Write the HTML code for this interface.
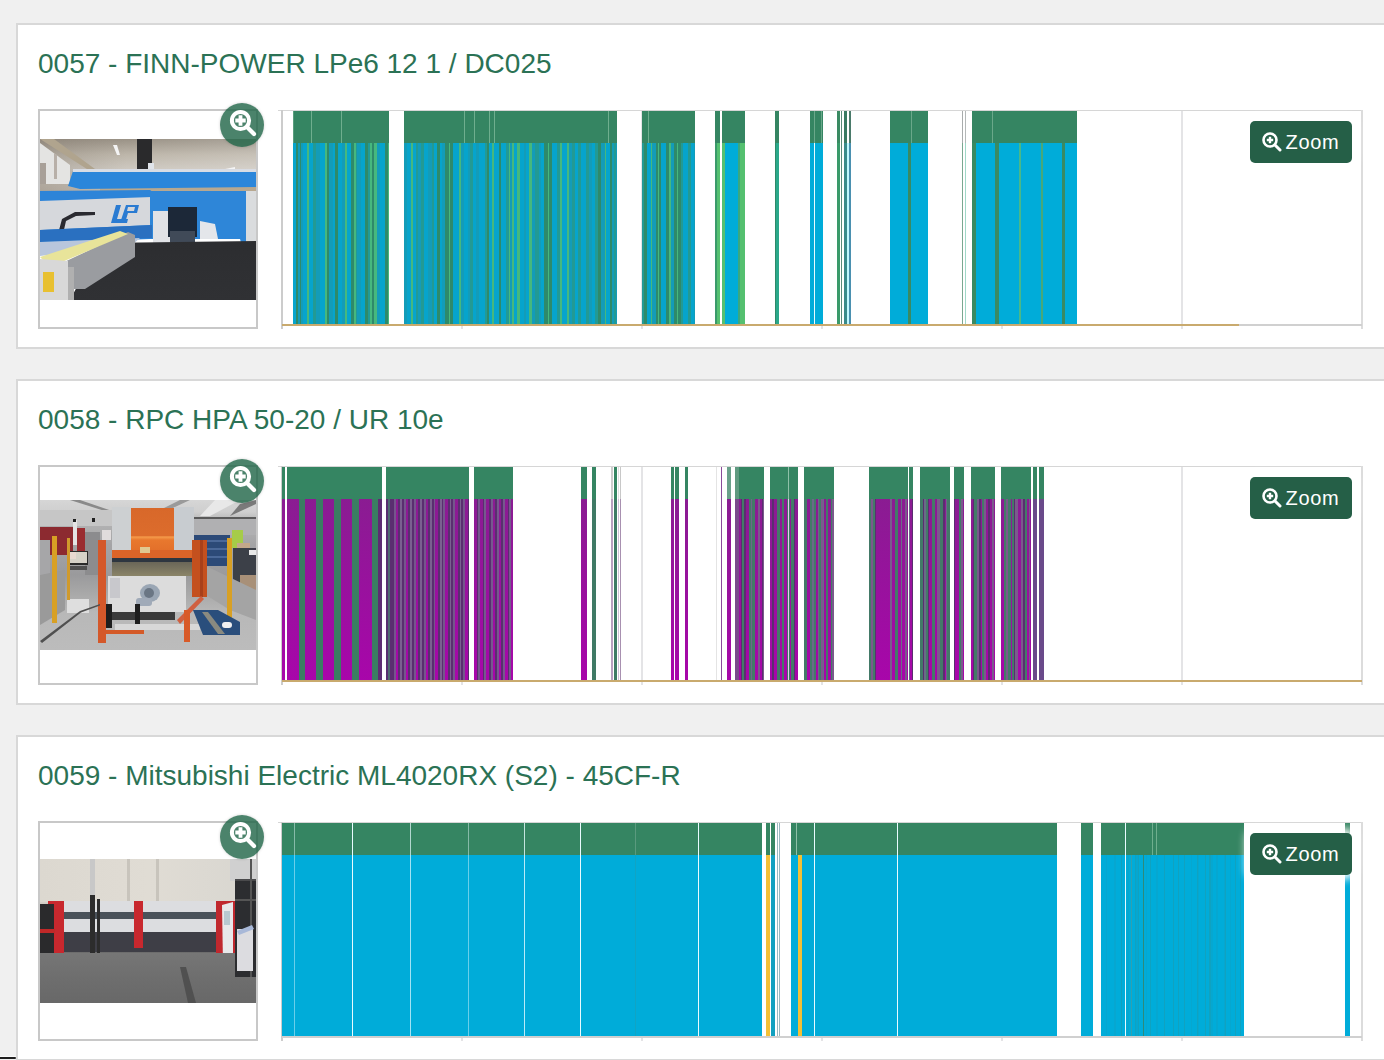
<!DOCTYPE html>
<html><head><meta charset="utf-8"><style>
html,body{margin:0;padding:0}
body{width:1384px;height:1060px;overflow:hidden;position:relative;background:#f0f0f0;font-family:"Liberation Sans",sans-serif}
.card{position:absolute;left:16px;width:1400px;height:322px;border:2px solid #d8d8d8;background:#fff}
.title{position:absolute;left:38px;font-size:28px;line-height:36px;color:#2b7255;white-space:nowrap}
.box{position:absolute;left:38px;width:216px;height:216px;border:2px solid #c8c8c8;background:#fff}
.ph{position:absolute;left:40px;width:216px;overflow:hidden;filter:blur(0.5px)}
.ph i{position:absolute;display:block}
.s{position:absolute}
.circ{position:absolute;left:220px;width:44px;height:44px;border-radius:50%;background:rgba(30,100,70,0.8);box-shadow:0 0 3px rgba(0,0,0,0.18)}
.circ svg{position:absolute;left:0;top:0}
.zbtn{position:absolute;left:1250px;width:102px;height:42px;border-radius:5px;background:#255f47;box-shadow:0 0 8px 4px #fff;color:#fff}
.zbtn svg{position:absolute;left:12px;top:11px}
.zbtn span{position:absolute;left:35.5px;top:10px;font-size:20px;line-height:22px;letter-spacing:0.7px}
</style></head><body>
<div class="card" style="top:23px"></div><div class="title" style="top:46px">0057 - FINN-POWER LPe6 12 1 / DC025</div><div class="box" style="top:109px"></div><div class="ph" style="top:139px;height:161px"><i style="left:0px;top:0px;width:216px;height:52px;background:linear-gradient(180deg,#9a9286 0,#bdb6aa 30%,#cfcac2 60%,#c4bcb0 100%);"></i><i style="left:0px;top:0px;width:216px;height:52px;background:linear-gradient(90deg,rgba(120,110,100,0.3),rgba(0,0,0,0) 40%,rgba(255,255,255,0.15) 100%);"></i><i style="left:0;top:0;width:216px;height:161px;background:#e4e4e2;clip-path:polygon(0px 4px,30px 26px,30px 45px,0px 45px);"></i><i style="left:0;top:0;width:216px;height:161px;background:#b0a48e;clip-path:polygon(0px 0px,14px 0px,55px 30px,50px 32px);"></i><i style="left:0;top:0;width:216px;height:161px;background:#a8a098;clip-path:polygon(0px 24px,6px 24px,6px 45px,0px 45px);"></i><i style="left:0;top:0;width:216px;height:161px;background:#b8b0a8;clip-path:polygon(14px 14px,17px 16px,17px 40px,14px 40px);"></i><i style="left:0;top:0;width:216px;height:161px;background:#f4f4f4;clip-path:polygon(73px 6px,77px 6px,80px 16px,77px 16px);"></i><i style="left:0;top:0;width:216px;height:161px;background:#f4f4f4;clip-path:polygon(185px 30px,195px 28px,195px 30px,186px 32px);"></i><i style="left:97px;top:0px;width:15px;height:30px;background:#2a2a2c;"></i><i style="left:108px;top:24px;width:6px;height:8px;background:#e0e4ea;"></i><i style="left:60px;top:45px;width:156px;height:10px;background:#b8a890;"></i><i style="left:0;top:0;width:216px;height:161px;background:#2b86da;clip-path:polygon(33px 32px,216px 32px,216px 48px,40px 50px,28px 47px);"></i><i style="left:33px;top:30px;width:183px;height:3px;background:#d8dce4;"></i><i style="left:0;top:0;width:216px;height:161px;background:#2d84d8;clip-path:polygon(0px 52px,110px 51px,120px 58px,110px 100px,0px 104px);"></i><i style="left:0;top:0;width:216px;height:161px;background:#d6d8dc;clip-path:polygon(0px 62px,112px 58px,112px 86px,0px 91px);"></i><i style="left:0;top:0;width:216px;height:161px;background:#2a7bd2;clip-path:polygon(76px 66px,81px 66px,77px 80px,88px 80px,87px 84px,71px 84px);"></i><i style="left:0;top:0;width:216px;height:161px;background:#2a7bd2;clip-path:polygon(86px 66px,99px 66px,97px 74px,88px 74px,85px 84px,80px 84px);"></i><i style="left:0;top:0;width:216px;height:161px;background:#d4d6da;clip-path:polygon(88px 68px,95px 68px,94px 72px,87px 72px);"></i><i style="left:0;top:0;width:216px;height:161px;background:#2a2a30;clip-path:polygon(18px 95px,22px 80px,35px 73px,55px 73px,55px 76px,36px 77px,26px 82px,23px 95px);"></i><i style="left:0;top:0;width:216px;height:161px;background:#2e86d8;clip-path:polygon(110px 52px,216px 52px,216px 118px,205px 118px,200px 100px,110px 100px);"></i><i style="left:113px;top:72px;width:17px;height:33px;background:#e0e2e6;"></i><i style="left:128px;top:68px;width:29px;height:30px;background:#1c2838;"></i><i style="left:130px;top:92px;width:25px;height:12px;background:#404a58;"></i><i style="left:0;top:0;width:216px;height:161px;background:#e4e6ea;clip-path:polygon(160px 82px,175px 85px,178px 100px,160px 100px);"></i><i style="left:206px;top:52px;width:10px;height:66px;background:#dadcde;"></i><i style="left:0;top:0;width:216px;height:161px;background:#2a70c0;clip-path:polygon(0px 91px,112px 86px,112px 99px,0px 103px);"></i><i style="left:0;top:0;width:216px;height:161px;background:#b8c6dc;clip-path:polygon(0px 103px,100px 99px,92px 106px,0px 117px);"></i><i style="left:0;top:0;width:216px;height:161px;background:linear-gradient(180deg,#202226,#2a2b2e 40%,#303134);clip-path:polygon(60px 104px,216px 102px,216px 161px,30px 161px);"></i><i style="left:0;top:0;width:216px;height:161px;background:#9a9ca0;clip-path:polygon(20px 125px,88px 93px,95px 96px,95px 118px,45px 150px,30px 150px);"></i><i style="left:0;top:0;width:216px;height:161px;background:#e8e49a;clip-path:polygon(0px 118px,80px 92px,88px 95px,10px 128px);"></i><i style="left:0;top:0;width:216px;height:161px;background:#d8d8d8;clip-path:polygon(0px 120px,28px 122px,28px 161px,0px 161px);"></i><i style="left:3px;top:133px;width:11px;height:20px;background:#e8c030;"></i><i style="left:28px;top:128px;width:6px;height:33px;background:#b0b0b0;"></i></div><div class="s" style="left:461px;width:2px;top:110px;height:219px;background:#e4e4e6"></div><div class="s" style="left:641px;width:2px;top:110px;height:219px;background:#e4e4e6"></div><div class="s" style="left:821px;width:2px;top:110px;height:219px;background:#e4e4e6"></div><div class="s" style="left:1001px;width:2px;top:110px;height:219px;background:#e4e4e6"></div><div class="s" style="left:1181px;width:2px;top:110px;height:219px;background:#e4e4e6"></div><div class="s" style="left:278px;width:1084px;top:110px;height:1px;background:#d6d6d6"></div><div class="s" style="left:281px;width:2px;top:110px;height:219px;background:#cccccc"></div><div class="s" style="left:1361px;width:2px;top:110px;height:219px;background:#dcdcdc"></div><div class="s" style="left:282px;width:1080px;top:324px;height:2px;background:#d0d0d0"></div><div class="s" style="left:282px;width:956.7px;top:324px;height:2px;background:#c9aa6e"></div><div class="s" style="left:293.30px;width:95.40px;top:111px;height:32px;background:#358562"></div><div class="s" style="left:293.30px;width:95.40px;top:143px;height:181px;background:linear-gradient(90deg,#06a4cc 0.00px 3.03px,#2e8a6a 3.03px 4.67px,#139cb8 4.67px 6.79px,#2e8a6a 6.79px 8.36px,#139cb8 8.36px 10.50px,#06a4cc 10.50px 14.49px,#46b87e 14.49px 15.64px,#06a4cc 15.64px 20.33px,#229a94 20.33px 22.99px,#139cb8 22.99px 26.94px,#06a4cc 26.94px 32.45px,#46b87e 32.45px 33.66px,#2e8a6a 33.66px 36.44px,#139cb8 36.44px 39.54px,#06a4cc 39.54px 42.24px,#2e8a6a 42.24px 44.60px,#06a4cc 44.60px 49.15px,#139cb8 49.15px 51.75px,#46b87e 51.75px 53.59px,#06a4cc 53.59px 58.10px,#2e8a6a 58.10px 61.35px,#46b87e 61.35px 62.69px,#229a94 62.69px 64.43px,#139cb8 64.43px 67.94px,#06a4cc 67.94px 72.16px,#2e8a6a 72.16px 75.18px,#229a94 75.18px 77.31px,#46b87e 77.31px 79.03px,#2e8a6a 79.03px 81.44px,#46b87e 81.44px 83.57px,#139cb8 83.57px 86.90px,#06a4cc 86.90px 91.85px,#2e8a6a 91.85px 95.34px,#46b87e 95.34px 95.40px)"></div><div class="s" style="left:404.20px;width:212.80px;top:111px;height:32px;background:#358562"></div><div class="s" style="left:404.20px;width:212.80px;top:143px;height:181px;background:linear-gradient(90deg,#139cb8 0.00px 3.34px,#06a4cc 3.34px 7.45px,#46b87e 7.45px 8.61px,#06a4cc 8.61px 12.48px,#229a94 12.48px 14.14px,#139cb8 14.14px 17.24px,#229a94 17.24px 20.38px,#06a4cc 20.38px 24.33px,#139cb8 24.33px 28.10px,#229a94 28.10px 29.90px,#06a4cc 29.90px 33.21px,#2e8a6a 33.21px 35.89px,#06a4cc 35.89px 38.40px,#139cb8 38.40px 41.14px,#2e8a6a 41.14px 44.55px,#46b87e 44.55px 46.17px,#2e8a6a 46.17px 49.02px,#06a4cc 49.02px 54.67px,#46b87e 54.67px 56.72px,#139cb8 56.72px 59.51px,#06a4cc 59.51px 64.24px,#139cb8 64.24px 66.29px,#229a94 66.29px 69.01px,#06a4cc 69.01px 72.40px,#139cb8 72.40px 75.13px,#06a4cc 75.13px 80.60px,#229a94 80.60px 83.03px,#2e8a6a 83.03px 84.70px,#06a4cc 84.70px 88.40px,#46b87e 88.40px 89.59px,#06a4cc 89.59px 95.42px,#2e8a6a 95.42px 97.22px,#06a4cc 97.22px 101.56px,#229a94 101.56px 104.79px,#46b87e 104.79px 106.10px,#139cb8 106.10px 108.44px,#46b87e 108.44px 110.08px,#06a4cc 110.08px 113.36px,#46b87e 113.36px 115.54px,#06a4cc 115.54px 119.85px,#139cb8 119.85px 121.91px,#06a4cc 121.91px 125.39px,#46b87e 125.39px 127.53px,#139cb8 127.53px 131.41px,#229a94 131.41px 134.82px,#139cb8 134.82px 137.26px,#06a4cc 137.26px 140.45px,#2e8a6a 140.45px 143.75px,#46b87e 143.75px 145.32px,#2e8a6a 145.32px 148.42px,#06a4cc 148.42px 153.24px,#229a94 153.24px 156.30px,#46b87e 156.30px 157.87px,#06a4cc 157.87px 163.14px,#46b87e 163.14px 165.30px,#139cb8 165.30px 168.10px,#229a94 168.10px 171.05px,#06a4cc 171.05px 174.00px,#229a94 174.00px 177.11px,#06a4cc 177.11px 182.50px,#229a94 182.50px 185.32px,#139cb8 185.32px 188.42px,#06a4cc 188.42px 190.97px,#229a94 190.97px 193.77px,#2e8a6a 193.77px 197.13px,#139cb8 197.13px 200.88px,#46b87e 200.88px 202.13px,#06a4cc 202.13px 205.65px,#2e8a6a 205.65px 207.67px,#139cb8 207.67px 209.94px,#229a94 209.94px 212.14px,#139cb8 212.14px 212.80px)"></div><div class="s" style="left:642.00px;width:53.10px;top:111px;height:32px;background:#358562"></div><div class="s" style="left:642.00px;width:53.10px;top:143px;height:181px;background:linear-gradient(90deg,#229a94 0.00px 2.34px,#2e8a6a 2.34px 4.90px,#06a4cc 4.90px 8.95px,#46b87e 8.95px 10.15px,#139cb8 10.15px 13.60px,#2e8a6a 13.60px 15.75px,#46b87e 15.75px 16.88px,#2e8a6a 16.88px 18.88px,#06a4cc 18.88px 24.08px,#2e8a6a 24.08px 26.71px,#46b87e 26.71px 28.80px,#139cb8 28.80px 32.03px,#2e8a6a 32.03px 34.55px,#46b87e 34.55px 36.09px,#2e8a6a 36.09px 38.55px,#229a94 38.55px 41.45px,#06a4cc 41.45px 45.91px,#229a94 45.91px 49.09px,#06a4cc 49.09px 52.01px,#139cb8 52.01px 53.10px)"></div><div class="s" style="left:715.00px;width:4.90px;top:111px;height:32px;background:#358562"></div><div class="s" style="left:715.00px;width:4.90px;top:143px;height:181px;background:linear-gradient(90deg,#3a9a6a 0 1.5px,#55c070 1.5px)"></div><div class="s" style="left:722.30px;width:22.30px;top:111px;height:32px;background:#358562"></div><div class="s" style="left:722.30px;width:22.30px;top:143px;height:181px;background:linear-gradient(90deg,#55c070 0 3.2px,#00acd9 3.2px 16.2px,#3aa880 16.2px 17.7px,#55c070 17.7px)"></div><div class="s" style="left:775.10px;width:4.10px;top:111px;height:32px;background:#358562"></div><div class="s" style="left:775.10px;width:4.10px;top:143px;height:181px;background:linear-gradient(90deg,#2e8a6a 0 1.5px,#2aa88a 1.5px)"></div><div class="s" style="left:810.00px;width:12.80px;top:111px;height:32px;background:#358562"></div><div class="s" style="left:810.00px;width:12.80px;top:143px;height:181px;background:#00acd9"></div><div class="s" style="left:813.90px;width:1.2px;top:143px;height:181px;background:#e8fbff;opacity:1"></div><div class="s" style="left:813.90px;width:1px;top:111px;height:32px;background:#6aa88a;opacity:1"></div><div class="s" style="left:821.20px;width:1px;top:111px;height:32px;background:#6aa88a;opacity:1"></div><div class="s" style="left:836.80px;width:3.40px;top:111px;height:32px;background:#3a8a62"></div><div class="s" style="left:836.80px;width:3.40px;top:143px;height:181px;background:#3a9a6a"></div><div class="s" style="left:841.10px;width:1.00px;top:111px;height:32px;background:#5a8a78"></div><div class="s" style="left:841.10px;width:1.00px;top:143px;height:181px;background:#5a8a78"></div><div class="s" style="left:844.40px;width:2.80px;top:111px;height:32px;background:#3a7a62"></div><div class="s" style="left:844.40px;width:2.80px;top:143px;height:181px;background:#3a8a8a"></div><div class="s" style="left:847.20px;width:1.8px;top:143px;height:181px;background:#c0f8ff;opacity:1"></div><div class="s" style="left:849.00px;width:1.80px;top:111px;height:32px;background:#4a7a6a"></div><div class="s" style="left:849.00px;width:1.80px;top:143px;height:181px;background:#4a90b0"></div><div class="s" style="left:890.30px;width:37.40px;top:111px;height:32px;background:#358562"></div><div class="s" style="left:890.30px;width:37.40px;top:143px;height:181px;background:linear-gradient(90deg,#00acd9 0 17.7px,#3a8a62 17.7px 21.3px,#00acd9 21.3px)"></div><div class="s" style="left:911.00px;width:1px;top:111px;height:32px;background:#6aa88a;opacity:1"></div><div class="s" style="left:962.00px;width:1.00px;top:111px;height:32px;background:#a8acac"></div><div class="s" style="left:962.00px;width:1.00px;top:143px;height:181px;background:#7aa890"></div><div class="s" style="left:965.00px;width:1.30px;top:111px;height:32px;background:#b4b8b8"></div><div class="s" style="left:965.00px;width:1.30px;top:143px;height:181px;background:#a0d8c8"></div><div class="s" style="left:972.30px;width:104.50px;top:111px;height:32px;background:#358562"></div><div class="s" style="left:972.30px;width:104.50px;top:143px;height:181px;background:linear-gradient(90deg,#3a8a62 0 4.5px,#00acd9 4.5px 23.5px,#3a8a62 23.5px 27.3px,#00acd9 27.3px 46.7px,#4ab888 46.7px 48.7px,#00acd9 48.7px 68.7px,#4aa878 68.7px 71.2px,#00acd9 71.2px 90.3px,#3a8a62 90.3px 92.7px,#00acd9 92.7px)"></div><div class="s" style="left:991.70px;width:1px;top:111px;height:32px;background:#6aa88a;opacity:1"></div><div class="s" style="left:310.50px;width:1px;top:111px;height:32px;background:#6fae8e;opacity:1"></div><div class="s" style="left:340.50px;width:1px;top:111px;height:32px;background:#6fae8e;opacity:1"></div><div class="s" style="left:463.60px;width:1px;top:111px;height:32px;background:#6fae8e;opacity:1"></div><div class="s" style="left:473.60px;width:1px;top:111px;height:32px;background:#6fae8e;opacity:1"></div><div class="s" style="left:488.60px;width:1px;top:111px;height:32px;background:#6fae8e;opacity:1"></div><div class="s" style="left:493.50px;width:1px;top:111px;height:32px;background:#6fae8e;opacity:1"></div><div class="s" style="left:608.30px;width:1px;top:111px;height:32px;background:#6fae8e;opacity:1"></div><div class="s" style="left:647.60px;width:1px;top:111px;height:32px;background:#6fae8e;opacity:1"></div><div class="s" style="left:293.30px;width:1px;top:111px;height:32px;background:#5a9e7e;opacity:1"></div><div class="circ" style="top:103px"><svg width="44" height="44" viewBox="0 0 44 44"><circle cx="20.5" cy="17.5" r="8.6" fill="none" stroke="#fff" stroke-width="4"/><path d="M20.5 12.3v10.4M15.3 17.5h10.4" stroke="#fff" stroke-width="3.8"/><path d="M27.5 24.5l6.5 6.5" stroke="#fff" stroke-width="4.2" stroke-linecap="round"/></svg></div><div class="zbtn" style="top:121px"><svg width="20" height="20" viewBox="0 0 20 20"><circle cx="8" cy="8" r="6.5" fill="none" stroke="#fff" stroke-width="2.6"/><path d="M8 4.8v6.4M4.8 8h6.4" stroke="#fff" stroke-width="2.4"/><path d="M13 13l5 5" stroke="#fff" stroke-width="3" stroke-linecap="round"/></svg><span>Zoom</span></div><div class="card" style="top:379px"></div><div class="title" style="top:402px">0058 - RPC HPA 50-20 / UR 10e</div><div class="box" style="top:465px"></div><div class="ph" style="top:500px;height:150px"><i style="left:0px;top:0px;width:216px;height:150px;background:linear-gradient(180deg,#d6d6d6 0,#cfcfcf 8%,#b4b4b4 14%,#a4a4a6 30%,#9a9a9c 50%,#a8a8a8 62%,#b8b8b8 75%,#bcbcbc 100%);"></i><i style="left:0;top:0;width:216px;height:161px;background:#8a8a8a;clip-path:polygon(30px 0px,40px 0px,75px 12px,68px 12px);"></i><i style="left:0;top:0;width:216px;height:161px;background:#9a9a9a;clip-path:polygon(140px 0px,150px 0px,120px 14px,112px 14px);"></i><i style="left:0;top:0;width:216px;height:161px;background:#e8e8e8;clip-path:polygon(175px 0px,200px 0px,170px 16px,160px 16px);"></i><i style="left:0;top:0;width:216px;height:161px;background:#7a7a7a;clip-path:polygon(200px 4px,216px 0px,216px 4px,190px 16px);"></i><i style="left:0px;top:10px;width:72px;height:16px;background:#c6c6c6;"></i><i style="left:154px;top:17px;width:62px;height:2px;background:#5a5a5a;"></i><i style="left:154px;top:19px;width:62px;height:16px;background:#b0b0b2;"></i><i style="left:0px;top:27px;width:33px;height:28px;background:#8c2a30;"></i><i style="left:37px;top:28px;width:8px;height:25px;background:#9a2c30;"></i><i style="left:33px;top:20px;width:4px;height:25px;background:#e4e4e4;"></i><i style="left:33px;top:19px;width:3px;height:3px;background:#202020;"></i><i style="left:52px;top:18px;width:3px;height:4px;background:#202020;"></i><i style="left:45px;top:32px;width:15px;height:43px;background:#8c8c8e;"></i><i style="left:0px;top:40px;width:10px;height:60px;background:#a6a6a8;"></i><i style="left:62px;top:30px;width:9px;height:10px;background:#e0dcdc;"></i><i style="left:27px;top:51px;width:21px;height:14px;background:#2a2a2a;"></i><i style="left:28px;top:52px;width:19px;height:11px;background:#d6d2c8;"></i><i style="left:28px;top:52px;width:8px;height:7px;background:#e8d8d0;"></i><i style="left:30px;top:66px;width:17px;height:4px;background:#505050;"></i><i style="left:0;top:0;width:216px;height:161px;background:#9a9a9a;clip-path:polygon(0px 75px,25px 70px,25px 110px,0px 125px);"></i><i style="left:153px;top:35px;width:37px;height:31px;background:#2c4a78;"></i><i style="left:153px;top:40px;width:37px;height:2px;background:#4a6898;"></i><i style="left:153px;top:48px;width:37px;height:2px;background:#4a6898;"></i><i style="left:153px;top:56px;width:37px;height:2px;background:#4a6898;"></i><i style="left:192px;top:30px;width:11px;height:18px;background:#a6cc48;"></i><i style="left:197px;top:43px;width:13px;height:6px;background:#c4a88a;"></i><i style="left:193px;top:48px;width:23px;height:40px;background:#3c4048;"></i><i style="left:209px;top:50px;width:7px;height:5px;background:#e8e8e8;"></i><i style="left:200px;top:75px;width:16px;height:25px;background:#a89078;"></i><i style="left:0;top:0;width:216px;height:161px;background:#a4a4a4;clip-path:polygon(166px 66px,216px 90px,216px 120px,190px 110px,166px 95px);"></i><i style="left:72px;top:7px;width:19px;height:43px;background:#cdd0d2;"></i><i style="left:134px;top:7px;width:20px;height:43px;background:#c8ccd0;"></i><i style="left:91px;top:8px;width:43px;height:50px;background:linear-gradient(180deg,#d8682a 0,#dc6c2c 55%,#f59a4a 58%,#e8782e 64%,#e06a28 100%);"></i><i style="left:72px;top:50px;width:82px;height:8px;background:#dc6428;"></i><i style="left:72px;top:58px;width:82px;height:4px;background:#2e3640;"></i><i style="left:72px;top:62px;width:80px;height:14px;background:linear-gradient(180deg,#6a6658,#8a8468);"></i><i style="left:100px;top:47px;width:10px;height:6px;background:#e0c890;"></i><i style="left:58px;top:40px;width:8px;height:103px;background:#d4582a;"></i><i style="left:152px;top:40px;width:15px;height:57px;background:#c4501e;"></i><i style="left:160px;top:40px;width:3px;height:57px;background:#a8401a;"></i><i style="left:68px;top:76px;width:78px;height:36px;background:#dcdcdc;"></i><i style="left:70px;top:78px;width:10px;height:20px;background:#c8c8cc;"></i><i style="left:100px;top:84px;width:20px;height:18px;background:#9aa6b4;border-radius:50%"></i><i style="left:104px;top:88px;width:10px;height:10px;background:#6a7684;border-radius:50%"></i><i style="left:96px;top:98px;width:16px;height:8px;background:#a0aab8;border-radius:3px"></i><i style="left:72px;top:112px;width:63px;height:8px;background:#3a3a3a;"></i><i style="left:66px;top:104px;width:6px;height:24px;background:#1e1e1e;"></i><i style="left:95px;top:104px;width:5px;height:24px;background:#1e1e1e;"></i><i style="left:75px;top:124px;width:85px;height:6px;background:#d8d8d8;"></i><i style="left:66px;top:130px;width:38px;height:4px;background:#d45a28;"></i><i style="left:27px;top:99px;width:22px;height:14px;background:#dedede;"></i><i style="left:12px;top:36px;width:5px;height:87px;background:#d8a024;"></i><i style="left:27px;top:38px;width:3px;height:62px;background:#d09a2c;"></i><i style="left:187px;top:38px;width:5px;height:80px;background:#d8a024;"></i><i style="left:0;top:0;width:216px;height:161px;background:#d06040;clip-path:polygon(137px 120px,161px 96px,164px 99px,140px 124px);"></i><i style="left:144px;top:110px;width:6px;height:32px;background:#d85a28;"></i><i style="left:0;top:0;width:216px;height:161px;background:#2a4e7c;clip-path:polygon(153px 110px,178px 110px,200px 122px,200px 135px,163px 135px);"></i><i style="left:0;top:0;width:216px;height:161px;background:#8a8a80;clip-path:polygon(162px 112px,168px 112px,185px 134px,178px 134px);"></i><i style="left:182px;top:122px;width:10px;height:6px;background:#f0f0f0;border-radius:3px"></i><i style="left:0;top:0;width:216px;height:161px;background:#505050;clip-path:polygon(0px 141px,40px 111px,60px 104px,60px 105.5px,41px 112.5px,2px 143px);"></i></div><div class="s" style="left:461px;width:2px;top:466px;height:219px;background:#e4e4e6"></div><div class="s" style="left:641px;width:2px;top:466px;height:219px;background:#e4e4e6"></div><div class="s" style="left:821px;width:2px;top:466px;height:219px;background:#e4e4e6"></div><div class="s" style="left:1001px;width:2px;top:466px;height:219px;background:#e4e4e6"></div><div class="s" style="left:1181px;width:2px;top:466px;height:219px;background:#e4e4e6"></div><div class="s" style="left:278px;width:1084px;top:466px;height:1px;background:#d6d6d6"></div><div class="s" style="left:281px;width:2px;top:466px;height:219px;background:#cccccc"></div><div class="s" style="left:1361px;width:2px;top:466px;height:219px;background:#dcdcdc"></div><div class="s" style="left:282px;width:1080px;top:680px;height:2px;background:#d0d0d0"></div><div class="s" style="left:282px;width:1080px;top:680px;height:2px;background:#c9aa6e"></div><div class="s" style="left:281.80px;width:3.60px;top:467px;height:32px;background:#358562"></div><div class="s" style="left:281.80px;width:3.60px;top:499px;height:181px;background:linear-gradient(180deg,#8a1c92,#a806aa)"></div><div class="s" style="left:287.00px;width:94.80px;top:467px;height:32px;background:#358562"></div><div class="s" style="left:287.00px;width:94.80px;top:499px;height:181px;background:linear-gradient(90deg,transparent 0 12px,#3a7d62 12px 18px,transparent 18px 29px,#3a7d62 29px 35.7px,transparent 35.7px 47.5px,#3a7d62 47.5px 53.8px,transparent 53.8px 65.4px,#3a7d62 65.4px 71.7px,transparent 71.7px 85.5px,#3a7d62 85.5px 91px,#5e2c72 91px),linear-gradient(180deg,#8a1c92,#a806aa)"></div><div class="s" style="left:385.90px;width:83.30px;top:467px;height:32px;background:#358562"></div><div class="s" style="left:385.90px;width:83.30px;top:499px;height:181px;background:linear-gradient(90deg,#5a2e70 0 1.5px,#4f6a70 1.5px 4.2px,#5a2e70 4.2px 6px,transparent 6px),repeating-linear-gradient(90deg,transparent 0 2.6px,#5a2e70 2.6px 4.6px,#7a6090 4.6px 6.1px,#5a2e70 6.1px 8px,#74568c 8px 9.9px),linear-gradient(180deg,#8a1c92,#a806aa)"></div><div class="s" style="left:474.20px;width:38.40px;top:467px;height:32px;background:#358562"></div><div class="s" style="left:474.20px;width:38.40px;top:499px;height:181px;background:repeating-linear-gradient(90deg,transparent 0 2.6px,#5a2e70 2.6px 4.2px,#76588e 4.2px 6.2px),linear-gradient(180deg,#8a1c92,#a806aa)"></div><div class="s" style="left:739.00px;width:24.60px;top:467px;height:32px;background:#358562"></div><div class="s" style="left:739.00px;width:24.60px;top:499px;height:181px;background:linear-gradient(90deg,transparent 0.00px 1.65px,#5a2e70 1.65px 3.43px,#437a68 3.43px 5.19px,#5a2e70 5.19px 6.85px,transparent 6.85px 10.12px,#437a68 10.12px 11.99px,#6a6a88 11.99px 13.48px,#437a68 13.48px 16.39px,transparent 16.39px 18.76px,#7a5a8c 18.76px 20.60px,transparent 20.60px 22.73px,#5a2e70 22.73px 23.75px,#7a5a8c 23.75px 24.60px),linear-gradient(180deg,#8a1c92,#a806aa)"></div><div class="s" style="left:770.20px;width:28.30px;top:467px;height:32px;background:#358562"></div><div class="s" style="left:770.20px;width:28.30px;top:499px;height:181px;background:linear-gradient(90deg,transparent 0.00px 2.16px,#5a2e70 2.16px 3.68px,transparent 3.68px 7.15px,#437a68 7.15px 10.30px,transparent 10.30px 12.33px,#437a68 12.33px 14.29px,transparent 14.29px 16.63px,#437a68 16.63px 19.52px,transparent 19.52px 21.32px,#437a68 21.32px 23.79px,#5a2e70 23.79px 24.88px,transparent 24.88px 27.76px,#7a5a8c 27.76px 28.30px),linear-gradient(180deg,#8a1c92,#a806aa)"></div><div class="s" style="left:804.30px;width:29.40px;top:467px;height:32px;background:#358562"></div><div class="s" style="left:804.30px;width:29.40px;top:499px;height:181px;background:linear-gradient(90deg,#437a68 0.00px 2.58px,transparent 2.58px 5.79px,#437a68 5.79px 8.06px,#6a6a88 8.06px 9.62px,#437a68 9.62px 11.57px,transparent 11.57px 14.12px,#6a6a88 14.12px 15.43px,#437a68 15.43px 17.42px,#7a5a8c 17.42px 19.10px,#6a6a88 19.10px 20.12px,transparent 20.12px 21.65px,#437a68 21.65px 24.09px,transparent 24.09px 26.54px,#437a68 26.54px 28.22px,#7a5a8c 28.22px 29.40px),linear-gradient(180deg,#8a1c92,#a806aa)"></div><div class="s" style="left:869.20px;width:43.70px;top:467px;height:32px;background:#358562"></div><div class="s" style="left:869.20px;width:43.70px;top:499px;height:181px;background:linear-gradient(90deg,#437a68 0.00px 2.17px,#7a5a8c 2.17px 4.36px,#437a68 4.36px 6.44px,#5a2e70 6.44px 8.07px,#6a6a88 8.07px 9.42px,transparent 9.42px 11.18px,#437a68 11.18px 13.12px,transparent 13.12px 14.79px,#437a68 14.79px 17.77px,#5a2e70 17.77px 19.05px,transparent 19.05px 21.13px,#7a5a8c 21.13px 22.79px,transparent 22.79px 26.21px,#437a68 26.21px 28.64px,transparent 28.64px 32.08px,#6a6a88 32.08px 33.43px,transparent 33.43px 35.70px,#7a5a8c 35.70px 37.70px,transparent 37.70px 40.21px,#6a6a88 40.21px 41.25px,transparent 41.25px 43.36px,#5a2e70 43.36px 43.70px),linear-gradient(180deg,#8a1c92,#a806aa)"></div><div class="s" style="left:919.90px;width:29.90px;top:467px;height:32px;background:#358562"></div><div class="s" style="left:919.90px;width:29.90px;top:499px;height:181px;background:linear-gradient(90deg,#437a68 0.00px 2.62px,#5a2e70 2.62px 4.50px,#6a6a88 4.50px 5.82px,#437a68 5.82px 7.58px,#5a2e70 7.58px 9.22px,transparent 9.22px 12.39px,#437a68 12.39px 14.96px,transparent 14.96px 17.50px,#7a5a8c 17.50px 19.84px,#437a68 19.84px 22.74px,#5a2e70 22.74px 24.64px,transparent 24.64px 26.20px,#6a6a88 26.20px 27.30px,#437a68 27.30px 29.75px,#5a2e70 29.75px 29.90px),linear-gradient(180deg,#8a1c92,#a806aa)"></div><div class="s" style="left:954.10px;width:9.70px;top:467px;height:32px;background:#358562"></div><div class="s" style="left:954.10px;width:9.70px;top:499px;height:181px;background:linear-gradient(90deg,#5a2e70 0.00px 1.49px,transparent 1.49px 4.58px,#437a68 4.58px 6.94px,#7a5a8c 6.94px 9.10px,transparent 9.10px 9.70px),linear-gradient(180deg,#8a1c92,#a806aa)"></div><div class="s" style="left:971.00px;width:23.80px;top:467px;height:32px;background:#358562"></div><div class="s" style="left:971.00px;width:23.80px;top:499px;height:181px;background:linear-gradient(90deg,transparent 0.00px 1.65px,#5a2e70 1.65px 2.85px,#437a68 2.85px 6.01px,#7a5a8c 6.01px 7.90px,#5a2e70 7.90px 9.66px,transparent 9.66px 11.46px,#437a68 11.46px 13.47px,#7a5a8c 13.47px 14.99px,transparent 14.99px 17.02px,#5a2e70 17.02px 18.72px,transparent 18.72px 21.25px,#7a5a8c 21.25px 23.22px,transparent 23.22px 23.80px),linear-gradient(180deg,#8a1c92,#a806aa)"></div><div class="s" style="left:1001.20px;width:29.80px;top:467px;height:32px;background:#358562"></div><div class="s" style="left:1001.20px;width:29.80px;top:499px;height:181px;background:linear-gradient(90deg,transparent 0.00px 3.46px,#437a68 3.46px 4.99px,#7a5a8c 4.99px 7.31px,#437a68 7.31px 9.57px,transparent 9.57px 11.49px,#437a68 11.49px 13.35px,#5a2e70 13.35px 14.49px,#7a5a8c 14.49px 16.94px,transparent 16.94px 20.08px,#7a5a8c 20.08px 22.47px,#5a2e70 22.47px 23.70px,#437a68 23.70px 26.03px,transparent 26.03px 27.53px,#7a5a8c 27.53px 29.49px,transparent 29.49px 29.80px),linear-gradient(180deg,#8a1c92,#a806aa)"></div><div class="s" style="left:875.60px;width:12.20px;top:467px;height:32px;background:#358562"></div><div class="s" style="left:875.60px;width:12.20px;top:499px;height:181px;background:linear-gradient(180deg,#8a1c92,#a806aa)"></div><div class="s" style="left:908.20px;width:1px;top:467px;height:213px;background:#ffffff;opacity:1"></div><div class="s" style="left:581.20px;width:5.90px;top:467px;height:32px;background:#358562"></div><div class="s" style="left:581.20px;width:5.90px;top:499px;height:181px;background:linear-gradient(180deg,#8a1c92,#a806aa)"></div><div class="s" style="left:592.00px;width:3.90px;top:467px;height:32px;background:#358562"></div><div class="s" style="left:592.00px;width:3.90px;top:499px;height:181px;background:#3f7a65"></div><div class="s" style="left:611.00px;width:1.80px;top:467px;height:32px;background:#cdcdcd"></div><div class="s" style="left:611.00px;width:1.80px;top:499px;height:181px;background:#b8a0c0"></div><div class="s" style="left:614.00px;width:3.00px;top:467px;height:32px;background:#358562"></div><div class="s" style="left:614.00px;width:3.00px;top:499px;height:181px;background:#3f7a65"></div><div class="s" style="left:618.10px;width:0.80px;top:467px;height:32px;background:#e0e0e0"></div><div class="s" style="left:618.10px;width:0.80px;top:499px;height:181px;background:#d0c0d8"></div><div class="s" style="left:620.00px;width:1.00px;top:467px;height:32px;background:#c8c8c8"></div><div class="s" style="left:620.00px;width:1.00px;top:499px;height:181px;background:#a890b0"></div><div class="s" style="left:671.30px;width:2.70px;top:467px;height:32px;background:#358562"></div><div class="s" style="left:671.30px;width:2.70px;top:499px;height:181px;background:linear-gradient(180deg,#8a1c92,#a806aa)"></div><div class="s" style="left:675.40px;width:3.30px;top:467px;height:32px;background:#358562"></div><div class="s" style="left:675.40px;width:3.30px;top:499px;height:181px;background:linear-gradient(180deg,#8a1c92,#a806aa)"></div><div class="s" style="left:684.90px;width:2.70px;top:467px;height:32px;background:#358562"></div><div class="s" style="left:684.90px;width:2.70px;top:499px;height:181px;background:linear-gradient(180deg,#8a1c92,#a806aa)"></div><div class="s" style="left:721.20px;width:1px;top:467px;height:213px;background:#8a4a9a;opacity:1"></div><div class="s" style="left:727.40px;width:3.40px;top:467px;height:32px;background:#6aa08a"></div><div class="s" style="left:727.40px;width:3.40px;top:499px;height:181px;background:linear-gradient(180deg,#8a1c92,#a806aa)"></div><div class="s" style="left:735.10px;width:3.90px;top:467px;height:32px;background:#5f9a80"></div><div class="s" style="left:735.10px;width:3.90px;top:499px;height:181px;background:#7a4a8c"></div><div class="s" style="left:787.80px;width:1px;top:467px;height:32px;background:#8fc0a8;opacity:1"></div><div class="s" style="left:788.00px;width:1px;top:499px;height:181px;background:#e8c8f0;opacity:1"></div><div class="s" style="left:716.30px;width:1px;top:467px;height:213px;background:#e4e4e4;opacity:1"></div><div class="s" style="left:1033.30px;width:3.40px;top:467px;height:32px;background:#358562"></div><div class="s" style="left:1033.30px;width:3.40px;top:499px;height:181px;background:#6a4a8a"></div><div class="s" style="left:1039.00px;width:5.00px;top:467px;height:32px;background:#358562"></div><div class="s" style="left:1039.00px;width:5.00px;top:499px;height:181px;background:#6a4a8a"></div><div class="circ" style="top:459px"><svg width="44" height="44" viewBox="0 0 44 44"><circle cx="20.5" cy="17.5" r="8.6" fill="none" stroke="#fff" stroke-width="4"/><path d="M20.5 12.3v10.4M15.3 17.5h10.4" stroke="#fff" stroke-width="3.8"/><path d="M27.5 24.5l6.5 6.5" stroke="#fff" stroke-width="4.2" stroke-linecap="round"/></svg></div><div class="zbtn" style="top:477px"><svg width="20" height="20" viewBox="0 0 20 20"><circle cx="8" cy="8" r="6.5" fill="none" stroke="#fff" stroke-width="2.6"/><path d="M8 4.8v6.4M4.8 8h6.4" stroke="#fff" stroke-width="2.4"/><path d="M13 13l5 5" stroke="#fff" stroke-width="3" stroke-linecap="round"/></svg><span>Zoom</span></div><div class="card" style="top:735px"></div><div class="title" style="top:758px">0059 - Mitsubishi Electric ML4020RX (S2) - 45CF-R</div><div class="box" style="top:821px"></div><div class="ph" style="top:859px;height:144px"><i style="left:0px;top:0px;width:216px;height:144px;background:linear-gradient(180deg,#dcd8d0 0,#d8d4cc 29%,#6c6c6c 64%,#747474 75%,#6a6a6a 100%);"></i><i style="left:0px;top:0px;width:216px;height:43px;background:linear-gradient(90deg,#dcd8d0,#e0dcd4 50%,#d8d6d0);"></i><i style="left:87px;top:0px;width:3px;height:43px;background:#c8c4bc;"></i><i style="left:116px;top:0px;width:3px;height:43px;background:#c8c4bc;"></i><i style="left:24px;top:42px;width:152px;height:31px;background:#dcdde0;"></i><i style="left:24px;top:53px;width:152px;height:7px;background:#4a525a;"></i><i style="left:24px;top:73px;width:152px;height:20px;background:#3e3e46;"></i><i style="left:8px;top:42px;width:16px;height:52px;background:#c8282e;"></i><i style="left:94px;top:42px;width:9px;height:47px;background:#c8282e;"></i><i style="left:176px;top:42px;width:23px;height:55px;background:#c0282e;"></i><i style="left:0;top:0;width:216px;height:161px;background:#e8e8ea;clip-path:polygon(182px 46px,193px 43px,193px 103px,183px 105px);"></i><i style="left:184px;top:52px;width:6px;height:14px;background:#b8c8d0;"></i><i style="left:0px;top:45px;width:14px;height:57px;background:#2a2a2c;"></i><i style="left:0px;top:70px;width:15px;height:4px;background:#c02828;"></i><i style="left:50px;top:0px;width:5px;height:36px;background:#c8c8c8;"></i><i style="left:50px;top:36px;width:5px;height:70px;background:#2c2c2c;"></i><i style="left:57px;top:40px;width:3px;height:64px;background:#2c2c2c;"></i><i style="left:0px;top:94px;width:216px;height:50px;background:linear-gradient(180deg,#767676,#6e6e6e 50%,#686868);"></i><i style="left:0;top:0;width:216px;height:161px;background:#505050;clip-path:polygon(140px 108px,146px 108px,156px 144px,148px 144px);"></i><i style="left:195px;top:20px;width:21px;height:98px;background:#2c2d30;"></i><i style="left:190px;top:0px;width:26px;height:22px;background:#d0d0d0;"></i><i style="left:195px;top:20px;width:21px;height:2px;background:#4a4a4c;"></i><i style="left:210px;top:0px;width:2px;height:118px;background:#555;"></i><i style="left:195px;top:40px;width:21px;height:1.5px;background:#555;"></i><i style="left:197px;top:70px;width:16px;height:42px;background:#dcdce0;"></i><i style="left:0;top:0;width:216px;height:161px;background:#a8b8d8;clip-path:polygon(197px 72px,212px 66px,214px 70px,199px 76px);"></i></div><div class="s" style="left:461px;width:2px;top:822px;height:219px;background:#e4e4e6"></div><div class="s" style="left:641px;width:2px;top:822px;height:219px;background:#e4e4e6"></div><div class="s" style="left:821px;width:2px;top:822px;height:219px;background:#e4e4e6"></div><div class="s" style="left:1001px;width:2px;top:822px;height:219px;background:#e4e4e6"></div><div class="s" style="left:1181px;width:2px;top:822px;height:219px;background:#e4e4e6"></div><div class="s" style="left:278px;width:1084px;top:822px;height:1px;background:#d6d6d6"></div><div class="s" style="left:281px;width:2px;top:822px;height:219px;background:#cccccc"></div><div class="s" style="left:1361px;width:2px;top:822px;height:219px;background:#dcdcdc"></div><div class="s" style="left:282px;width:1080px;top:1036px;height:2px;background:#d0d0d0"></div><div class="s" style="left:282.00px;width:479.80px;top:823px;height:32px;background:#358562"></div><div class="s" style="left:282.00px;width:479.80px;top:855px;height:181px;background:#00acd9"></div><div class="s" style="left:294.40px;width:1px;top:823px;height:213px;background:#e8fbff;opacity:0.45"></div><div class="s" style="left:352.40px;width:1px;top:823px;height:213px;background:#e8fbff;opacity:1"></div><div class="s" style="left:410.30px;width:1px;top:823px;height:213px;background:#e8fbff;opacity:0.7"></div><div class="s" style="left:467.80px;width:1px;top:823px;height:213px;background:#e8fbff;opacity:0.45"></div><div class="s" style="left:523.50px;width:1px;top:823px;height:213px;background:#e8fbff;opacity:0.8"></div><div class="s" style="left:579.60px;width:1px;top:823px;height:213px;background:#e8fbff;opacity:1"></div><div class="s" style="left:698.40px;width:1px;top:823px;height:213px;background:#e8fbff;opacity:1"></div><div class="s" style="left:635.00px;width:1px;top:855px;height:181px;background:#10a4c4;opacity:1"></div><div class="s" style="left:635.00px;width:1px;top:823px;height:32px;background:#5a9a7e;opacity:1"></div><div class="s" style="left:765.70px;width:4.00px;top:823px;height:32px;background:#358562"></div><div class="s" style="left:765.70px;width:4.00px;top:855px;height:181px;background:#f4c035"></div><div class="s" style="left:771.20px;width:3.60px;top:823px;height:32px;background:#358562"></div><div class="s" style="left:771.20px;width:3.60px;top:855px;height:181px;background:#11a0c0"></div><div class="s" style="left:776.60px;width:1px;top:823px;height:213px;background:#9ab8c0;opacity:1"></div><div class="s" style="left:778.90px;width:1px;top:823px;height:213px;background:#9ab8c0;opacity:1"></div><div class="s" style="left:791.00px;width:6.80px;top:823px;height:32px;background:#358562"></div><div class="s" style="left:791.00px;width:6.80px;top:855px;height:181px;background:#00acd9"></div><div class="s" style="left:797.80px;width:4.00px;top:823px;height:32px;background:#358562"></div><div class="s" style="left:797.80px;width:4.00px;top:855px;height:181px;background:#f4c035"></div><div class="s" style="left:796.40px;width:1px;top:823px;height:32px;background:#8fc0a8;opacity:1"></div><div class="s" style="left:801.80px;width:254.80px;top:823px;height:32px;background:#358562"></div><div class="s" style="left:801.80px;width:254.80px;top:855px;height:181px;background:#00acd9"></div><div class="s" style="left:813.50px;width:1px;top:823px;height:213px;background:#e8fbff;opacity:1"></div><div class="s" style="left:897.00px;width:1px;top:823px;height:213px;background:#e8fbff;opacity:1"></div><div class="s" style="left:1081.00px;width:11.80px;top:823px;height:32px;background:#358562"></div><div class="s" style="left:1081.00px;width:11.80px;top:855px;height:181px;background:#00acd9"></div><div class="s" style="left:1101.40px;width:142.40px;top:823px;height:32px;background:#358562"></div><div class="s" style="left:1101.40px;width:142.40px;top:855px;height:181px;background:linear-gradient(90deg,#00acd9 0.00px 4.58px,#06a7d0 4.58px 5.58px,#00acd9 5.58px 13.21px,#06a7d0 13.21px 15.12px,#00acd9 15.12px 19.98px,#10a2c0 19.98px 21.07px,#00acd9 21.07px 26.21px,#06a7d0 26.21px 27.50px,#10a2c0 27.50px 28.42px,#00acd9 28.42px 33.98px,#10a2c0 33.98px 35.22px,#06a7d0 35.22px 36.85px,#10a2c0 36.85px 38.12px,#00acd9 38.12px 44.72px,#06a7d0 44.72px 46.17px,#00acd9 46.17px 49.41px,#10a2c0 49.41px 50.28px,#00acd9 50.28px 55.00px,#06a7d0 55.00px 56.97px,#00acd9 56.97px 63.25px,#10a2c0 63.25px 64.30px,#00acd9 64.30px 71.83px,#10a2c0 71.83px 72.86px,#00acd9 72.86px 76.82px,#10a2c0 76.82px 77.99px,#00acd9 77.99px 83.06px,#10a2c0 83.06px 83.93px,#00acd9 83.93px 90.07px,#06a7d0 90.07px 91.29px,#00acd9 91.29px 95.53px,#10a2c0 95.53px 96.76px,#06a7d0 96.76px 97.78px,#00acd9 97.78px 104.33px,#10a2c0 104.33px 105.36px,#00acd9 105.36px 108.36px,#10a2c0 108.36px 109.58px,#06a7d0 109.58px 111.55px,#00acd9 111.55px 115.09px,#06a7d0 115.09px 117.04px,#00acd9 117.04px 122.79px,#06a7d0 122.79px 124.03px,#10a2c0 124.03px 125.15px,#00acd9 125.15px 128.79px,#06a7d0 128.79px 130.49px,#00acd9 130.49px 133.84px,#10a2c0 133.84px 134.96px,#00acd9 134.96px 139.13px,#10a2c0 139.13px 140.29px,#00acd9 140.29px 142.40px)"></div><div class="s" style="left:1142.60px;width:1.2px;top:855px;height:181px;background:#2e8a7a;opacity:1"></div><div class="s" style="left:1130.80px;width:1px;top:855px;height:181px;background:#30a0b0;opacity:1"></div><div class="s" style="left:1151.70px;width:1px;top:823px;height:32px;background:#6fae8e;opacity:1"></div><div class="s" style="left:1155.70px;width:1px;top:823px;height:32px;background:#6fae8e;opacity:1"></div><div class="s" style="left:1124.50px;width:1px;top:823px;height:213px;background:#e8fbff;opacity:1"></div><div class="s" style="left:1345.30px;width:4.90px;top:823px;height:32px;background:#358562"></div><div class="s" style="left:1345.30px;width:4.90px;top:855px;height:181px;background:#00acd9"></div><div class="circ" style="top:815px"><svg width="44" height="44" viewBox="0 0 44 44"><circle cx="20.5" cy="17.5" r="8.6" fill="none" stroke="#fff" stroke-width="4"/><path d="M20.5 12.3v10.4M15.3 17.5h10.4" stroke="#fff" stroke-width="3.8"/><path d="M27.5 24.5l6.5 6.5" stroke="#fff" stroke-width="4.2" stroke-linecap="round"/></svg></div><div class="zbtn" style="top:833px"><svg width="20" height="20" viewBox="0 0 20 20"><circle cx="8" cy="8" r="6.5" fill="none" stroke="#fff" stroke-width="2.6"/><path d="M8 4.8v6.4M4.8 8h6.4" stroke="#fff" stroke-width="2.4"/><path d="M13 13l5 5" stroke="#fff" stroke-width="3" stroke-linecap="round"/></svg><span>Zoom</span></div>
<div class="s" style="left:0;top:1056px;width:16px;height:1px;background:#fafafa"></div><div class="s" style="left:0;top:1057px;width:16px;height:2px;background:#1e1e1e;border-radius:0 1px 1px 0"></div>
</body></html>
